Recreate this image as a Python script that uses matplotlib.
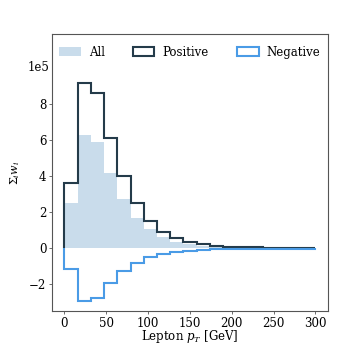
import numpy as np
import matplotlib
matplotlib.use('Agg')
import matplotlib.pyplot as plt
from matplotlib.patches import Patch

# bin edges of the lepton pT histogram (19 bins between 0 and 300 GeV)
edges = np.linspace(0, 300, 20)

# summed weights per bin (units of 1e5)
w_pos = [3.65, 9.15, 8.6, 6.1, 4.0, 2.5, 1.5, 0.93, 0.55, 0.35,
         0.22, 0.15, 0.10, 0.07, 0.05, 0.04, 0.03, 0.03, 0.02]
w_neg = [-1.15, -2.9, -2.75, -1.9, -1.25, -0.8, -0.5, -0.3, -0.2, -0.13,
         -0.08, -0.06, -0.04, -0.03, -0.02, -0.015, -0.01, -0.01, -0.01]
w_all = [2.5, 6.3, 5.9, 4.2, 2.75, 1.7, 1.05, 0.65, 0.35, 0.22,
         0.14, 0.09, 0.06, 0.04, 0.03, 0.025, 0.02, 0.02, 0.01]

plt.rcParams['font.family'] = 'DejaVu Serif'
plt.rcParams['font.size'] = 8.5
plt.rcParams['mathtext.fontset'] = 'dejavuserif'

c_all = '#c9dceb'
c_pos = '#243b4a'
c_neg = '#4a9be6'

fig = plt.figure(figsize=(3.46, 3.46), dpi=100)
ax = fig.add_axes([0.15, 0.101, 0.798, 0.801])

ax.stairs(w_all, edges, fill=True, color=c_all)
ax.stairs(w_pos, edges, color=c_pos, linewidth=1.5)
ax.stairs(w_neg, edges, color=c_neg, linewidth=1.5)

ax.set_ylim(1.2 * min(w_neg), 1.3 * max(w_pos))
ax.set_yticks([-2, 0, 2, 4, 6, 8])
ax.set_xticks([0, 50, 100, 150, 200, 250, 300])
ax.tick_params(length=2.5, width=0.6, pad=1.5, color='#555555')
ax.set_xlabel('Lepton $p_T$ [GeV]', labelpad=-1)
ax.set_ylabel(r'$\Sigma_i w_i$', labelpad=5, fontsize=8)
ax.text(-0.01, 0.88, '1e5', transform=ax.transAxes, ha='right', va='center')

for s in ax.spines.values():
    s.set_color('#555555')

handles = [Patch(facecolor=c_all, edgecolor='none'),
           Patch(facecolor='white', edgecolor=c_pos, linewidth=1.5),
           Patch(facecolor='white', edgecolor=c_neg, linewidth=1.5)]
ax.legend(handles, ['All', 'Positive', 'Negative'], loc='upper center',
          ncol=3, frameon=False, fontsize=8.5, columnspacing=2.4,
          handlelength=1.8, handletextpad=0.7, handleheight=0.7,
          borderaxespad=0.6)

fig.savefig('out.png', dpi=100)
